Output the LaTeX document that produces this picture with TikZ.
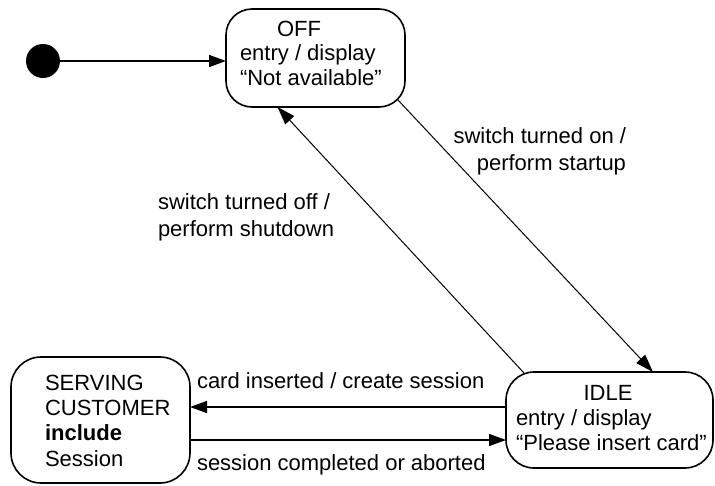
\documentclass[tikz,border=0pt]{standalone}
\usepackage{fontspec}
\setmainfont{Liberation Sans}
\usetikzlibrary{arrows.meta}
\begin{document}
\begin{tikzpicture}[x=1pt,y=-1pt,
  every node/.style={font=\fontsize{22}{25}\selectfont, inner sep=0pt, outer sep=0pt},
  state/.style={draw, line width=1.6pt, rounded corners=26pt},
  txt/.style={anchor=base west},
  arr/.style={-{Triangle[length=17pt,width=12pt]}, line width=1.6pt},
  darr/.style={-{Triangle[length=18pt,width=12pt]}, line width=1pt}]
\useasboundingbox (0,0) rectangle (715,485);
% initial state
\node[circle, fill, minimum size=34pt] (init) at (43,61) {};
% states (drawn as shapes)
\node[state, minimum width=179pt, minimum height=98pt] (off) at (315.5,58) {};
\node[state, minimum width=207pt, minimum height=96pt, rounded corners=28pt] (idle) at (609.5,420) {};
\node[state, minimum width=179pt, minimum height=126pt, rounded corners=30pt] (serving) at (100.5,420) {};
% state texts
\node[anchor=base] (offname) at (299,36) {OFF};
\node[txt] (offentry) at (240,60.5) {entry / display};
\node[txt] (offdisp) at (240,85) {“Not available”};
\node[anchor=base] (idlename) at (608,400) {IDLE};
\node[txt] (idleentry) at (516,425) {entry / display};
\node[txt] (idledisp) at (516,450) {“Please insert card”};
\node[txt] (serv1) at (45,390) {SERVING};
\node[txt] (serv2) at (45,415) {CUSTOMER};
\node[txt] (serv3) at (45,440) {\bfseries include};
\node[txt] (serv4) at (45,466) {Session};
% transitions
\draw[arr] (init.east) -- (init.east -| off.west);
\draw[darr] ([shift={(-7.3,-7.3)}]off.south east) -- ([xshift=43.5pt]idle.north);
\draw[darr] ([xshift=18pt,yshift=-1pt]idle.north west) -- ([xshift=-38pt]off.south);
\draw[arr] ([yshift=13pt]idle.west) -- ([yshift=13pt]idle.west -| serving.east);
\draw[arr] ([yshift=-20pt]serving.east) -- ([yshift=-20pt]serving.east -| idle.west);
% labels
\node[anchor=base east] (on1) at (626,143) {switch turned on /};
\node[anchor=base east] (on2) at (626,170) {perform startup};
\node[txt] (off1) at (158,209) {switch turned off /};
\node[txt] (off2) at (158,236) {perform shutdown};
\node[txt] (ci) at (197,388) {card inserted / create session};
\node[txt] (sc) at (197,470) {session completed or aborted};
\end{tikzpicture}
\end{document}
